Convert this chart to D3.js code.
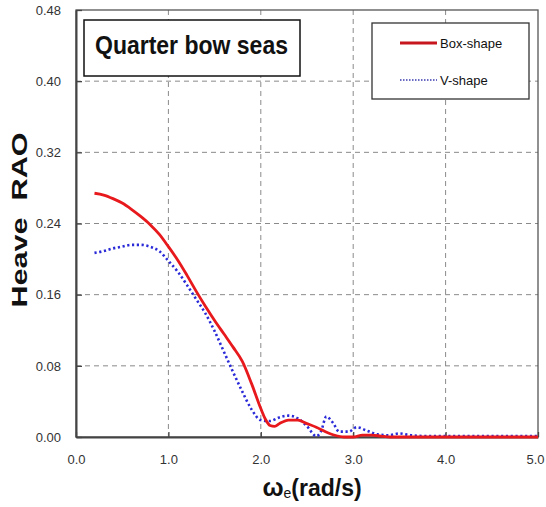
<!DOCTYPE html>
<html><head><meta charset="utf-8">
<script src="https://cdn.jsdelivr.net/npm/d3@7/dist/d3.min.js"></script>
<style>
body{margin:0;background:#fff;}
svg{display:block;}
text{font-family:"Liberation Sans",Arial,sans-serif;}
</style></head>
<body>
<svg id="c" width="546" height="507"></svg>
<script>
// ---- data ----
const xTicks = [0,1,2,3,4,5];
const xTickLabels = ["0.0","1.0","2.0","3.0","4.0","5.0"];
const yTicks = [0,0.08,0.16,0.24,0.32,0.40,0.48];
const yTickLabels = ["0.00","0.08","0.16","0.24","0.32","0.40","0.48"];
const seriesNames = ["Box-shape","V-shape"];
const boxOmega = [0.2,0.3,0.4,0.5,0.6,0.7,0.8,0.9,1.0,1.1,1.2,1.3,1.4,1.5,1.6,1.7,1.8,1.9,2.0,2.05,2.1,2.15,2.2,2.3,2.4,2.5,2.6,2.7,2.8,2.9,3.0,3.1,3.2,3.3,3.4,3.6,4.0,4.5,5.0];
const boxRAO   = [0.274,0.272,0.268,0.263,0.256,0.248,0.239,0.228,0.214,0.199,0.182,0.164,0.147,0.131,0.116,0.101,0.085,0.060,0.032,0.020,0.013,0.012,0.015,0.019,0.019,0.015,0.011,0.006,0.002,0.000,0.000,0.002,0.002,0.001,0.000,0.000,0.000,0.000,0.000];
const vOmega = [0.2,0.3,0.4,0.5,0.6,0.7,0.8,0.9,1.0,1.1,1.2,1.3,1.4,1.5,1.6,1.7,1.8,1.9,2.0,2.1,2.2,2.3,2.4,2.5,2.6,2.65,2.71,2.78,2.85,2.95,3.04,3.15,3.26,3.38,3.5,3.62,3.8,4.0,4.5,5.0];
const vRAO   = [0.207,0.209,0.212,0.214,0.216,0.216,0.214,0.209,0.198,0.186,0.171,0.155,0.139,0.119,0.096,0.073,0.051,0.031,0.019,0.018,0.022,0.024,0.021,0.012,0.001,0.006,0.023,0.016,0.006,0.006,0.011,0.007,0.003,0.002,0.004,0.002,0.001,0.001,0.001,0.001];

// ---- layout ----
const svg = d3.select("#c");
const L=76, R=538, T=10, B=437;
const x = d3.scaleLinear().domain([0,5]).range([L,R]);
const y = d3.scaleLinear().domain([0,0.48]).range([B,T]);

// grid
const grid = svg.append("g").attr("stroke","#8a8a8a").attr("stroke-width",1).attr("stroke-dasharray","5,4");
xTicks.slice(1,5).forEach(v=>grid.append("line").attr("x1",x(v)).attr("x2",x(v)).attr("y1",T).attr("y2",B));
yTicks.slice(1,6).forEach(v=>grid.append("line").attr("x1",L).attr("x2",R).attr("y1",y(v)).attr("y2",y(v)));

// frame
svg.append("rect").attr("x",L).attr("y",T).attr("width",R-L).attr("height",B-T)
  .attr("fill","none").attr("stroke","#555").attr("stroke-width",1.3);

// axes
const xAxis = d3.axisBottom(x).tickValues(xTicks).tickFormat((d,i)=>xTickLabels[i]).tickSizeInner(-5).tickSizeOuter(0).tickPadding(18);
const gx = svg.append("g").attr("transform",`translate(0,${B})`).call(xAxis);
gx.select(".domain").attr("stroke","#444").attr("stroke-width",2);
gx.selectAll(".tick line").attr("stroke","#444").attr("stroke-width",1.3);
gx.selectAll("text").attr("font-size",13).attr("fill","#333").attr("font-family","'Liberation Sans',Arial,sans-serif");
gx.selectAll(".tick text").filter(d=>d===5).attr("dx",-3);

const yAxis = d3.axisLeft(y).tickValues(yTicks).tickFormat((d,i)=>yTickLabels[i]).tickSizeInner(-6).tickSizeOuter(0).tickPadding(15);
const gy = svg.append("g").attr("transform",`translate(${L},0)`).call(yAxis);
gy.select(".domain").attr("stroke","#444").attr("stroke-width",2);
gy.selectAll(".tick line").attr("stroke","#444").attr("stroke-width",1.3);
gy.selectAll("text").attr("font-size",13).attr("fill","#333").attr("font-family","'Liberation Sans',Arial,sans-serif");

// lines
const line = d3.line().x(d=>x(d[0])).y(d=>y(d[1])).curve(d3.curveMonotoneX);
const boxData = boxOmega.map((w,i)=>[w,boxRAO[i]]);
const vData = vOmega.map((w,i)=>[w,vRAO[i]]);
svg.append("path").attr("d",line(vData)).attr("fill","none").attr("stroke","#2a2ad8")
  .attr("stroke-width",2.6).attr("stroke-dasharray","2.2,2.6");
svg.append("path").attr("d",line(boxData)).attr("fill","none").attr("stroke","#e8191c")
  .attr("stroke-width",2.8);

// title box
svg.append("rect").attr("x",84).attr("y",20).attr("width",216).attr("height",56)
  .attr("fill","#fff").attr("stroke","#111").attr("stroke-width",1.5);
svg.append("text").attr("x",95).attr("y",54).attr("font-size",26).attr("font-weight","bold")
  .attr("fill","#111").attr("textLength",193).attr("lengthAdjust","spacingAndGlyphs")
  .style("white-space","pre").text("Quarter bow seas");

// legend
svg.append("rect").attr("x",372).attr("y",23).attr("width",157).attr("height",76)
  .attr("fill","#fff").attr("stroke","#333").attr("stroke-width",1.3);
const leg = [{n:seriesNames[0],c:"#c8161e",dash:null,w:2.8,yy:43},{n:seriesNames[1],c:"#3a3ab0",dash:"1.5,1.5",w:1.6,yy:80}];
leg.forEach(l=>{
  const ln = svg.append("line").attr("x1",400).attr("x2",437).attr("y1",l.yy).attr("y2",l.yy)
    .attr("stroke",l.c).attr("stroke-width",l.w);
  if(l.dash) ln.attr("stroke-dasharray",l.dash);
  svg.append("text").attr("x",440).attr("y",l.yy+4.5).attr("font-size",13).attr("fill","#111").text(l.n);
});

// axis titles
const xl = svg.append("text").attr("x",312).attr("y",496).attr("text-anchor","middle")
  .attr("font-weight","bold").attr("font-size",23).attr("fill","#111");
xl.append("tspan").attr("font-size",25).text("ω");
xl.append("tspan").attr("font-size",14).attr("font-weight","normal").attr("dy",2).text("e");
xl.append("tspan").attr("dy",-2).text("(rad/s)");

svg.append("text").attr("transform","translate(27,220) rotate(-90)").attr("text-anchor","middle")
  .attr("font-weight","bold").attr("font-size",22).attr("fill","#111")
  .attr("textLength",175).attr("lengthAdjust","spacingAndGlyphs")
  .style("white-space","pre").text("Heave  RAO");
</script>
</body></html>
